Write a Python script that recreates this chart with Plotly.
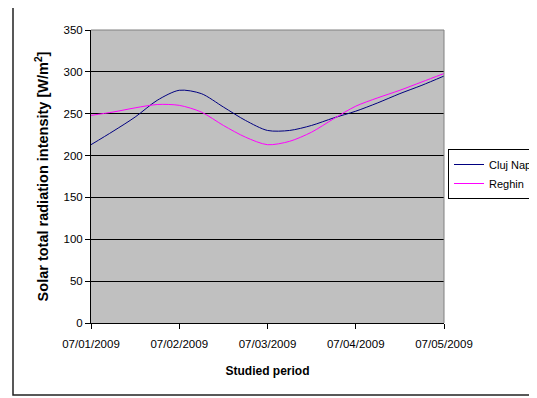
import plotly.graph_objects as go

# Sample times (every 6 hours from 07/01/2009 to 07/05/2009)
times = [
    "2009-07-01 00:00", "2009-07-01 06:00", "2009-07-01 12:00", "2009-07-01 18:00",
    "2009-07-02 00:00", "2009-07-02 06:00", "2009-07-02 12:00", "2009-07-02 18:00",
    "2009-07-03 00:00", "2009-07-03 06:00", "2009-07-03 12:00", "2009-07-03 18:00",
    "2009-07-04 00:00", "2009-07-04 06:00", "2009-07-04 12:00", "2009-07-04 18:00",
    "2009-07-05 00:00",
]
cluj_napoca = [213, 229, 246, 266, 278, 274, 258, 242, 230, 230, 236, 245, 253, 263, 274, 284, 295]
reghin = [248, 252, 257, 261, 260, 252, 236, 222, 213, 217, 228, 244, 259, 269, 278, 288, 298]

tick_vals = ["2009-07-01", "2009-07-02", "2009-07-03", "2009-07-04", "2009-07-05"]
tick_text = ["07/01/2009", "07/02/2009", "07/03/2009", "07/04/2009", "07/05/2009"]

# page offset of the figure (default body margin)
OFF = 8
PAGE_W, PAGE_H = 537, 398
W, H = PAGE_W - OFF, PAGE_H - OFF
# desired plot area in page pixels
PX0, PX1, PY0, PY1 = 91, 444, 30, 323
L, T = PX0 - OFF, PY0 - OFF
R, B = W - (PX1 - OFF), H - (PY1 - OFF)
pw, ph = PX1 - PX0, PY1 - PY0

def px_x(x):
    return (x - PX0) / pw

def px_y(y):
    return (PY1 - y) / ph

font_family = "Liberation Sans, Arial, sans-serif"

bx0, bx1 = px_x(13), px_x(600)
by0, by1 = px_y(395), px_y(7)
border_path = f"M {bx1},{by1} L {bx0},{by1} L {bx0},{by0} L {bx1},{by0}"

fig = go.Figure()
fig.add_trace(go.Scatter(x=times, y=cluj_napoca, name="Cluj Napoca", mode="lines",
                         line=dict(color="#000080", width=1, shape="spline", smoothing=0.8)))
fig.add_trace(go.Scatter(x=times, y=reghin, name="Reghin", mode="lines",
                         line=dict(color="#FF00FF", width=1, shape="spline", smoothing=0.8)))

fig.update_layout(
    width=W, height=H,
    margin=dict(l=L, r=R, t=T, b=B, autoexpand=False),
    paper_bgcolor="white",
    plot_bgcolor="#C0C0C0",
    font=dict(family=font_family, size=11, color="black"),
    showlegend=True,
    legend=dict(x=px_x(448), y=px_y(149), xanchor="left", yanchor="top",
                bgcolor="white", bordercolor="black", borderwidth=1,
                font=dict(size=11), tracegroupgap=0, itemwidth=30),
    shapes=[
        dict(type="path", xref="paper", yref="paper", path=border_path,
             line=dict(color="#222222", width=1.5), layer="below"),
        dict(type="line", xref="paper", yref="paper", x0=0, x1=1, y0=1, y1=1,
             line=dict(color="#808080", width=1), layer="above"),
        dict(type="line", xref="paper", yref="paper", x0=1, x1=1, y0=0, y1=1,
             line=dict(color="#808080", width=1), layer="above"),
    ],
)

fig.update_xaxes(
    type="date",
    range=["2009-07-01", "2009-07-05"],
    tickvals=tick_vals, ticktext=tick_text,
    showgrid=False, zeroline=False,
    showline=True, linecolor="black", linewidth=1,
    ticks="outside", ticklen=5, tickcolor="black",
    ticklabelstandoff=5,
    tickfont=dict(size=11.5),
    title=dict(text="<b>Studied period</b>", font=dict(size=12), standoff=17),
)
fig.update_yaxes(
    range=[0, 350], dtick=50, tick0=0,
    showgrid=True, gridcolor="black", gridwidth=1,
    zeroline=False,
    showline=True, linecolor="black", linewidth=1,
    ticks="outside", ticklen=5, tickcolor="black",
    tickfont=dict(size=11.5),
    title=dict(text="<b>Solar total radiation intensity [W/m<sup>2</sup>]</b>", font=dict(size=14.5), standoff=11),
)

fig.write_html("out.html")
